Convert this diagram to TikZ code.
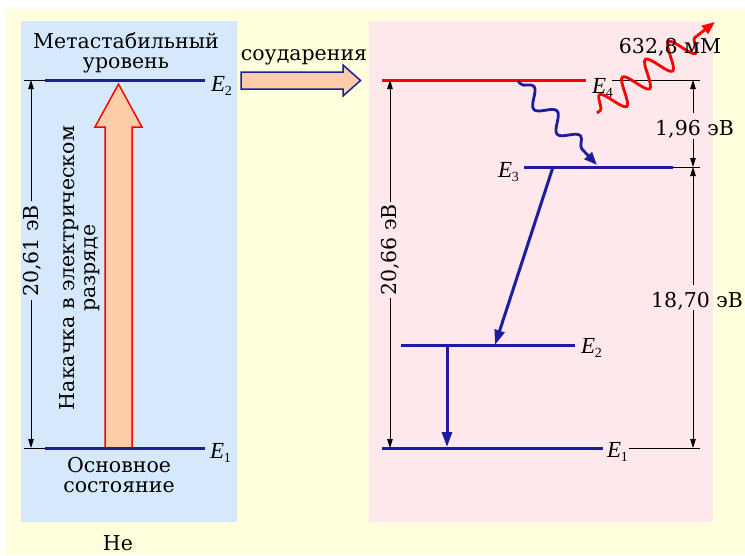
\documentclass[tikz,border=0pt]{standalone}
\usepackage{fontspec}
\setmainfont{DejaVu Serif}
\newfontfamily\efont{Liberation Serif}
\usetikzlibrary{arrows.meta,decorations.pathmorphing}
\definecolor{bgY}{RGB}{255,255,221}
\definecolor{panB}{RGB}{214,233,252}
\definecolor{panP}{RGB}{255,232,236}
\definecolor{lev}{RGB}{28,28,160}
\definecolor{peach}{RGB}{255,204,170}
\newcommand\Elev[1]{{\efont\itshape E}\kern-0.5pt\raisebox{-4pt}{\efont\fontsize{14}{14}\selectfont #1}}
\begin{document}
\begin{tikzpicture}[x=1pt,y=-1pt,
  txt/.style={font=\fontsize{20.5}{20.5}\selectfont, inner sep=0pt, align=center},
  rtxt/.style={font=\fontsize{20.5}{21}\selectfont, inner sep=0pt, align=center, rotate=90},
  lvl/.style={line width=3pt, draw=lev},
  redlvl/.style={line width=3pt, draw=red},
  tick/.style={line width=0.8pt, draw=black},
  dimtip/.style={line width=0.8pt, draw=black, -{Triangle[length=9pt,width=5.5pt]}},
  elab/.style={font=\fontsize{23}{23}\selectfont, inner sep=0pt, anchor=base west},
  trans/.style={line width=3pt, draw=lev, -{Triangle[length=15pt,width=10pt]}},
  wave/.style={line width=2.8pt, -{Triangle[length=13pt,width=10pt]}, decorate,
    decoration={snake, amplitude=#1, segment length=30pt, pre length=4pt, post length=16pt}},
  bigarrow/.style={line width=1.5pt, fill=peach}
]
\useasboundingbox (0,0) rectangle (745,555);
\fill[white] (0,0) rectangle (745,555);
\fill[bgY] (6,9) rectangle (745,555);
\fill[panB] (21,21) rectangle (237,522);
\fill[panP] (369,21) rectangle (713,522);

% ---------- He ----------
\coordinate (hE2a) at (24,80);  \coordinate (hE2b) at (45,80);  \coordinate (hE2c) at (205,80);
\coordinate (hE1a) at (24,448); \coordinate (hE1b) at (45,448); \coordinate (hE1c) at (205,448);
% pump arrow
\draw[bigarrow, draw=red] (105,447) -- (105,127) -- (95,127) -- (118.5,84) -- (142,127) -- (132,127) -- (132,447);
\draw[tick] (hE2a) -- (hE2b);
\draw[lvl] (hE2b) -- (hE2c);
\draw[tick] (hE1a) -- (hE1b);
\draw[lvl] (hE1b) -- (hE1c);
\node[elab] (hE2lab) at (211,91) {\Elev{2}};
\node[elab] (hE1lab) at (210,458) {\Elev{1}};
% dimension
\coordinate (hdT) at (31,80); \coordinate (hdB) at (31,448);
\coordinate (hdG1) at (31,201); \coordinate (hdG2) at (31,300);
\draw[dimtip] (hdG1) -- (hdT);
\draw[dimtip] (hdG2) -- (hdB);
\node[rtxt] (hdlab) at (32,251) {20,61 эВ};
\node[rtxt] (pump) at (80,268) {Накачка в электрическом\\разряде};
\node[txt] (meta) at (126,53) {Метастабильный\\уровень};
\node[txt] (hground) at (119,475) {Основное\\состояние};
\node[txt, anchor=base] (he) at (118,550) {He};

% ---------- collisions ----------
\draw[bigarrow, draw=lev] (241,72) -- (343,72) -- (343,65) -- (360.5,80.5) -- (343,96) -- (343,89) -- (241,89) -- cycle;
\node[txt, anchor=base] (coll) at (304,60) {соударения};

% ---------- Ne ----------
\coordinate (nE4a) at (382,80);  \coordinate (nE4b) at (586,80);
\coordinate (nE4c) at (612,80);  \coordinate (nE4d) at (700,80);
\coordinate (nE3a) at (524,167); \coordinate (nE3b) at (673,167); \coordinate (nE3c) at (700,167);
\coordinate (nE2a) at (401,345); \coordinate (nE2b) at (575,345);
\coordinate (nE1a) at (382,448); \coordinate (nE1b) at (603,448);
\coordinate (nE1c) at (629,448); \coordinate (nE1d) at (700,448);
\draw[redlvl] (nE4a) -- (nE4b);
\draw[tick] (nE4c) -- (nE4d);
\draw[lvl] (nE3a) -- (nE3b);
\draw[tick] (nE3b) -- (nE3c);
\draw[lvl] (nE2a) -- (nE2b);
\draw[lvl] (nE1a) -- (nE1b);
\draw[tick] (nE1c) -- (nE1d);
\node[elab] (nE4lab) at (592,93) {\Elev{4}};
\node[elab] (nE3lab) at (498,177) {\Elev{3}};
\node[elab] (nE2lab) at (581,353) {\Elev{2}};
\node[elab] (nE1lab) at (607,457) {\Elev{1}};
% transitions
\coordinate (w1s) at (518,81); \coordinate (w1e) at (597,165);
\draw[wave=8pt, draw=lev, decoration={segment length=34pt}] (w1s) -- (w1e);
\coordinate (t1s) at (553,167); \coordinate (t1e) at (495,345);
\draw[trans] (t1s) -- (t1e);
\coordinate (t2s) at (447,345); \coordinate (t2e) at (447,447);
\draw[trans] (t2s) -- (t2e);
\coordinate (w2s) at (597,113); \coordinate (w2e) at (715,22);
\draw[wave=13pt, draw=red, decoration={segment length=29pt, post length=14pt}] (w2s) -- (w2e);
\node[txt, anchor=base] (lam) at (670,53) {632,8 мМ};
% left dimension
\coordinate (ndT) at (390,80); \coordinate (ndB) at (390,448);
\coordinate (ndG1) at (390,202); \coordinate (ndG2) at (390,298);
\draw[dimtip] (ndG1) -- (ndT);
\draw[dimtip] (ndG2) -- (ndB);
\node[rtxt] (ndlab) at (390,250) {20,66 эВ};
% right dimensions
\coordinate (rA) at (693,80);  \coordinate (rA1) at (693,113);
\coordinate (rA2) at (693,139); \coordinate (rB) at (693,167);
\coordinate (rB1) at (693,285); \coordinate (rB2) at (693,310);
\coordinate (rC) at (693,448);
\draw[dimtip] (rA1) -- (rA);
\draw[dimtip] (rA2) -- (rB);
\draw[dimtip] (rB1) -- (rB);
\draw[dimtip] (rB2) -- (rC);
\node[txt, anchor=base west] (d196) at (655,135) {1,96 эВ};
\node[txt, anchor=base west] (d1870) at (651,307) {18,70 эВ};
\end{tikzpicture}
\end{document}
